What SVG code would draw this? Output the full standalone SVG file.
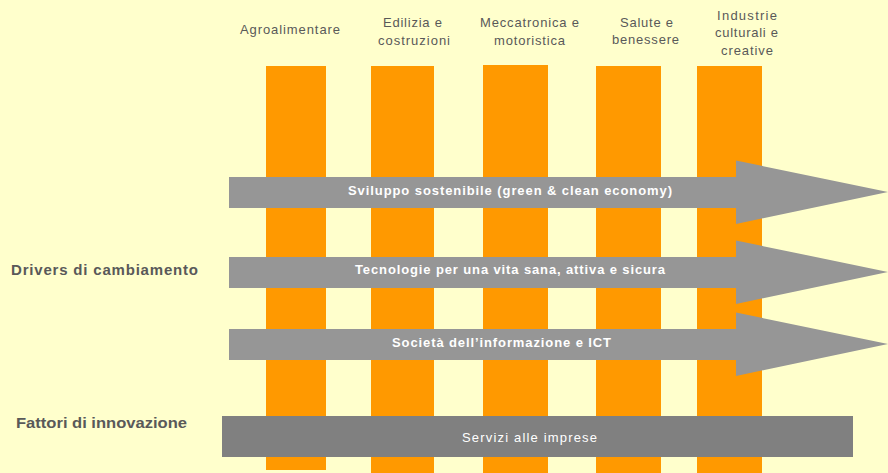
<svg xmlns="http://www.w3.org/2000/svg" width="888" height="473" viewBox="0 0 888 473">
<style>
.col{fill:#FF9900}
.arr{fill:#969696}
.hdr{font-family:"Liberation Sans",Arial,sans-serif;font-size:13px;fill:#595959}
.side{font-family:"Liberation Sans",Arial,sans-serif;font-size:15px;font-weight:bold;fill:#595959}
.lbl{font-family:"Liberation Sans",Arial,sans-serif;font-size:13px;font-weight:bold;fill:#FFFFFF}
.lbl2{font-family:"Liberation Sans",Arial,sans-serif;font-size:13px;fill:#FFFFFF}
</style>
<rect width="888" height="473" fill="#FFFFCC"/>
<g id="col-agro"><rect class="col" x="266" y="66" width="60" height="404"/><text class="hdr" x="240" y="34" textLength="100" lengthAdjust="spacing">Agroalimentare</text></g>
<g id="col-edilizia"><rect class="col" x="371" y="66" width="63" height="407"/><text class="hdr" x="383" y="27" textLength="59" lengthAdjust="spacing">Edilizia e</text><text class="hdr" x="378" y="45" textLength="72" lengthAdjust="spacing">costruzioni</text></g>
<g id="col-mecca"><rect class="col" x="483" y="65" width="65" height="408"/><text class="hdr" x="480" y="27" textLength="99" lengthAdjust="spacing">Meccatronica e</text><text class="hdr" x="494" y="45" textLength="71" lengthAdjust="spacing">motoristica</text></g>
<g id="col-salute"><rect class="col" x="596" y="66" width="65" height="407"/><text class="hdr" x="620" y="27" textLength="53" lengthAdjust="spacing">Salute e</text><text class="hdr" x="612" y="44" textLength="67" lengthAdjust="spacing">benessere</text></g>
<g id="col-industrie"><rect class="col" x="697" y="66" width="65" height="407"/><text class="hdr" x="717" y="20" textLength="60" lengthAdjust="spacing">Industrie</text><text class="hdr" x="715" y="37" textLength="63" lengthAdjust="spacing">culturali e</text><text class="hdr" x="721" y="55" textLength="52" lengthAdjust="spacing">creative</text></g>
<g id="connectors">
<g id="arrow-sviluppo"><polygon class="arr" points="229,177 736,177 736,160.5 888,192 736,224 736,208 229,208"/><text class="lbl" x="348" y="195" textLength="324" lengthAdjust="spacing">Sviluppo sostenibile (green &amp; clean economy)</text></g>
<g id="arrow-tecnologie"><polygon class="arr" points="229,257 736,257 736,240.5 888,272 736,304 736,288 229,288"/><text class="lbl" x="355" y="274" textLength="310" lengthAdjust="spacing">Tecnologie per una vita sana, attiva e sicura</text></g>
<g id="arrow-societa"><polygon class="arr" points="229,329 736,329 736,312.5 888,344 736,376 736,360 229,360"/><text class="lbl" x="392" y="347" textLength="219" lengthAdjust="spacing">Società dell’informazione e ICT</text></g>
</g>
<g id="servizi"><rect x="222" y="416" width="631" height="41" fill="#808080"/><text class="lbl2" x="462" y="442" textLength="135" lengthAdjust="spacing">Servizi alle imprese</text></g>
<g id="label-drivers"><text class="side" x="11" y="275" textLength="187" lengthAdjust="spacing">Drivers di cambiamento</text></g>
<g id="label-fattori"><text class="side" x="16" y="428" textLength="171" lengthAdjust="spacingAndGlyphs">Fattori di innovazione</text></g>
</svg>
